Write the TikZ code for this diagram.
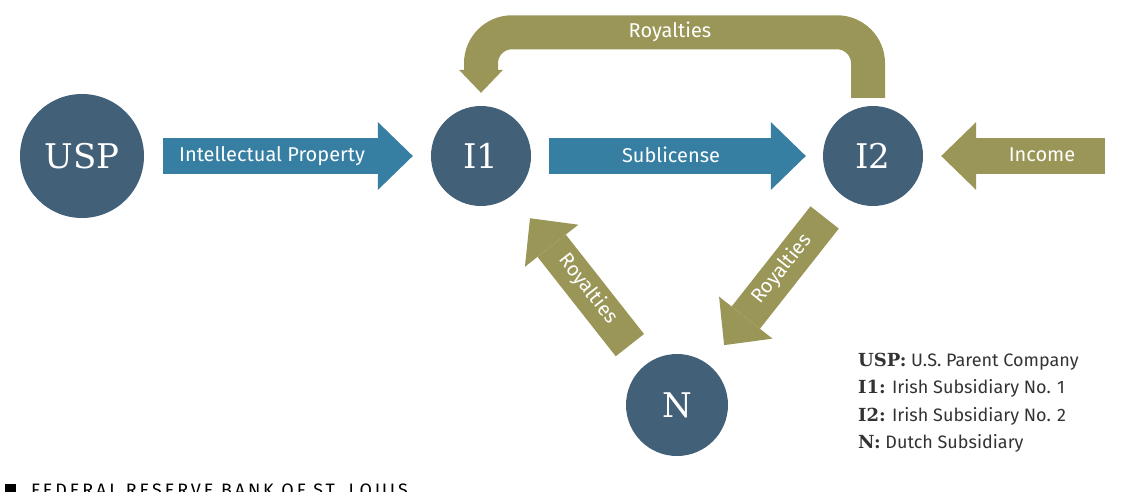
\documentclass[tikz,border=0pt]{standalone}
\usepackage{fontspec}
\setmainfont{DejaVu Serif}
\newfontfamily\labfont{Fira Sans}
\newfontfamily\footfont[LetterSpace=16]{Fira Sans}
\usetikzlibrary{arrows.meta}
\definecolor{nodeblue}{HTML}{436079}
\definecolor{arrowblue}{HTML}{367FA2}
\definecolor{olive}{HTML}{9A9657}
\definecolor{legendgray}{HTML}{333333}
\begin{document}
\begin{tikzpicture}[x=1pt,y=-1pt,
  ent/.style={circle, fill=nodeblue, text=white, inner sep=0pt, font=\fontsize{34}{34}\selectfont},
  fat/.style={line width=36pt, -{Triangle[width=68pt,length=35pt,line width=0pt]}},
  bluefat/.style={fat, draw=arrowblue},
  olivefat/.style={fat, draw=olive},
  band/.style={draw=olive, line width=34pt, rounded corners=31pt,
    -{Triangle[width=44pt,length=23pt,line width=0pt]}},
  lab/.style={text=white, font=\labfont\fontsize{20}{20}\selectfont, inner sep=0pt},
  leg/.style={text=legendgray, anchor=base west, inner sep=0pt, font=\labfont\fontsize{18}{18}\selectfont}
]
\useasboundingbox (0,0) rectangle (1134,492);
\clip (0,0) rectangle (1134,492);

% entities
\node[ent, minimum size=124pt] (USP) at (82,156) {USP};
\node[ent, minimum size=100pt] (I1) at (481,156) {I1};
\node[ent, minimum size=100pt] (I2) at (873,156) {I2};
\node[ent, minimum size=102pt] (N) at (677,405) {N};
\coordinate (incsrc) at (1105,156);

% connectors
\draw[bluefat, shorten <=19pt, shorten >=18pt] (USP) -- (I1);
\draw[bluefat, shorten <=18pt, shorten >=17pt] (I1) -- (I2);
\draw[olivefat, shorten >=18pt] (incsrc) -- (I2);
\draw[olivefat, shorten <=25pt, shorten >=29pt] (N) -- (I1);
\draw[olivefat, shorten <=28pt, shorten >=25pt] (I2) -- (N);
\draw[band] ([xshift=-5pt,yshift=8pt]I2.north) -- ++(0,-65.5) -| ([yshift=13pt]I1.north);

% connector labels
\node[lab] (lip) at (272,156) {Intellectual Property};
\node[lab] (lsub) at (671,155) {Sublicense};
\node[lab] (linc) at (1042,155) {Income};
\node[lab] (ltop) at (670,32) {Royalties};
\node[lab, rotate=-52] (lleft) at (588,289) {Royalties};
\node[lab, rotate=51] (lright) at (782,269) {Royalties};

% legend
\node[leg] (k1) at (858,366) {{\bfseries\rmfamily USP:} U.S. Parent Company};
\node[leg] (k2) at (858,393) {{\bfseries\rmfamily I1:} Irish Subsidiary No. 1};
\node[leg] (k3) at (858,421) {{\bfseries\rmfamily I2:} Irish Subsidiary No. 2};
\node[leg] (k4) at (858,448) {{\bfseries\rmfamily N:} Dutch Subsidiary};

% footer
\node[anchor=base west, inner sep=0pt, text=black, font=\footfont\fontsize{18}{18}\selectfont] (foot) at (5,496) {\rule{11pt}{12pt}\hspace{15pt}FEDERAL RESERVE BANK OF ST. LOUIS};
\end{tikzpicture}
\end{document}
